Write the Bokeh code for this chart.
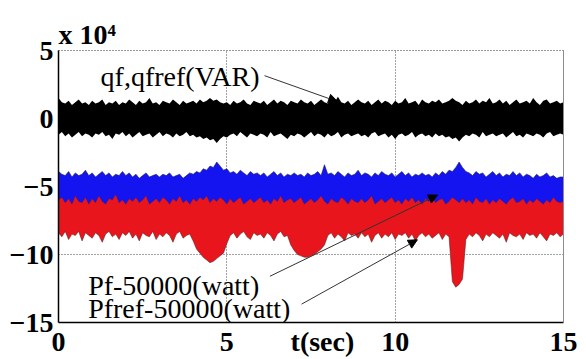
from bokeh.plotting import figure
from bokeh.models import (Range1d, LinearAxis, FixedTicker, Label, Arrow,
                          NormalHead, Title)
from bokeh.embed import file_html
from bokeh.resources import INLINE

# time axis, seconds, sampled every 0.1 s
t = [i / 10 for i in range(151)]

# envelopes of the signals, units of 1e4
qf_hi = [1.5, 1.2, 1.1, 1.3, 1.0, 1.2, 1.4, 1.1, 1.2, 1.0,
         1.3, 1.1, 1.2, 1.4, 1.0, 1.2, 1.1, 1.3, 1.0, 1.2,
         1.1, 1.4, 1.2, 1.0, 1.3, 1.1, 1.2, 1.5, 1.1, 1.2,
         1.0, 1.3, 1.2, 1.1, 1.4, 1.2, 1.0, 1.3, 1.1, 1.2,
         1.3, 1.1, 1.4, 1.2, 1.3, 1.5, 1.3, 1.4, 1.2, 1.1,
         1.2, 1.0, 1.3, 1.1, 1.2, 1.4, 1.1, 1.0, 1.3, 1.2,
         1.1, 1.3, 1.0, 1.2, 1.4, 1.1, 1.3, 1.2, 1.0, 1.3,
         1.2, 1.1, 1.4, 1.2, 1.1, 1.3, 1.0, 1.2, 1.4, 1.2,
         1.1, 1.3, 1.2, 1.6, 1.2, 1.1, 1.3, 1.0, 1.2, 1.4,
         1.2, 1.1, 1.3, 1.0, 1.2, 1.4, 1.1, 1.3, 1.2, 1.0,
         1.3, 1.1, 1.2, 1.5, 1.1, 1.2, 1.3, 1.0, 1.4, 1.2,
         1.1, 1.3, 1.2, 1.4, 1.1, 1.2, 1.3, 1.5, 1.3, 1.2,
         1.0, 1.3, 1.1, 1.2, 1.4, 1.1, 1.3, 1.2, 1.5, 1.1,
         1.2, 1.4, 1.1, 1.3, 1.0, 1.2, 1.4, 1.1, 1.2, 1.3,
         1.1, 1.5, 1.2, 1.0, 1.3, 1.4, 1.1, 1.2, 1.3, 1.1,
         1.2]
qf_lo = [-1.2, -1.0, -1.3, -1.1, -1.4, -1.2, -1.0, -1.3, -1.1, -1.2,
         -1.4, -1.1, -1.2, -1.0, -1.3, -1.2, -1.5, -1.1, -1.2, -1.0,
         -1.3, -1.1, -1.4, -1.2, -1.0, -1.3, -1.2, -1.1, -1.4, -1.2,
         -1.0, -1.3, -1.1, -1.2, -1.4, -1.1, -1.3, -1.2, -1.0, -1.3,
         -1.2, -1.4, -1.3, -1.5, -1.4, -1.6, -1.5, -1.8, -1.5, -1.3,
         -1.4, -1.2, -1.1, -1.3, -1.0, -1.2, -1.4, -1.1, -1.2, -1.3,
         -1.1, -1.2, -1.4, -1.0, -1.3, -1.2, -1.1, -1.3, -1.5, -1.2,
         -1.3, -1.1, -1.2, -1.4, -1.2, -1.0, -1.3, -1.1, -1.2, -1.4,
         -1.1, -1.3, -1.2, -1.0, -1.4, -1.2, -1.1, -1.3, -1.2, -1.1,
         -1.3, -1.2, -1.4, -1.1, -1.0, -1.3, -1.2, -1.1, -1.4, -1.2,
         -1.5, -1.2, -1.1, -1.3, -1.2, -1.0, -1.4, -1.2, -1.1, -1.3,
         -1.2, -1.4, -1.1, -1.3, -1.2, -1.4, -1.3, -1.5, -1.4, -1.7,
         -1.4, -1.2, -1.3, -1.1, -1.2, -1.4, -1.0, -1.3, -1.2, -1.1,
         -1.3, -1.2, -1.1, -1.4, -1.2, -1.0, -1.3, -1.2, -1.4, -1.1,
         -1.2, -1.3, -1.1, -1.2, -1.4, -1.1, -1.0, -1.3, -1.2, -1.1,
         -1.2]
pf_hi = [-3.9, -4.1, -4.2, -3.9, -4.3, -4.0, -4.2, -4.1, -3.8, -4.2,
         -4.0, -4.3, -4.1, -3.9, -4.2, -4.0, -4.3, -4.1, -4.2, -3.9,
         -4.2, -4.0, -4.3, -4.1, -4.4, -4.2, -4.0, -4.3, -4.2, -4.1,
         -4.3, -4.1, -4.2, -4.0, -4.3, -4.2, -4.1, -4.4, -4.2, -4.0,
         -4.1, -3.9, -4.0, -3.7, -3.8, -3.5, -3.6, -3.2, -3.5, -3.8,
         -3.7, -4.0, -3.9, -4.1, -3.8, -4.0, -4.2, -3.9, -4.1, -4.0,
         -4.2, -4.0, -4.3, -4.1, -3.9, -4.2, -4.0, -4.3, -4.1, -4.2,
         -4.0, -4.2, -4.1, -4.3, -4.0, -4.2, -4.1, -3.9, -4.2, -3.4,
         -4.1, -4.0, -4.2, -3.9, -4.1, -4.3, -4.0, -4.2, -4.1, -3.8,
         -4.2, -4.0, -4.1, -4.3, -4.0, -4.2, -3.9, -4.1, -4.2, -4.0,
         -4.3, -4.1, -3.9, -4.2, -4.0, -4.3, -4.1, -4.2, -4.0, -4.2,
         -4.1, -4.3, -4.0, -4.2, -3.9, -4.1, -3.8, -3.9, -3.6, -3.2,
         -3.6, -3.9, -4.0, -4.2, -3.9, -4.1, -4.0, -4.3, -4.1, -3.9,
         -4.2, -4.0, -4.3, -4.1, -4.2, -3.9, -4.2, -4.0, -4.3, -4.1,
         -4.2, -4.4, -4.1, -4.3, -4.2, -4.0, -4.3, -4.2, -4.4, -4.3,
         -4.3]
pf_lo = [-6.6, -6.7, -6.5, -6.6, -6.8, -6.5, -6.7, -6.6, -6.5, -6.7,
         -6.6, -6.5, -6.7, -6.6, -6.8, -6.6, -6.5, -6.7, -6.6, -6.5,
         -6.7, -6.6, -6.5, -6.8, -6.6, -6.7, -6.5, -6.6, -6.7, -6.6,
         -6.5, -6.7, -6.6, -6.8, -6.5, -6.6, -6.7, -6.5, -6.6, -6.7,
         -6.6, -6.5, -6.7, -6.6, -6.5, -6.7, -6.6, -6.8, -6.6, -6.5,
         -6.7, -6.6, -6.5, -6.7, -6.6, -6.8, -6.5, -6.6, -6.7, -6.6,
         -6.5, -6.7, -6.6, -6.5, -6.8, -6.6, -6.7, -6.5, -6.6, -6.7,
         -6.6, -6.5, -6.7, -6.6, -6.8, -6.5, -6.6, -6.7, -6.5, -6.6,
         -6.7, -6.6, -6.5, -6.7, -6.6, -6.8, -6.6, -6.5, -6.7, -6.6,
         -6.5, -6.7, -6.6, -6.8, -6.5, -6.6, -6.7, -6.6, -6.5, -6.7,
         -6.6, -6.5, -6.7, -6.6, -6.8, -6.6, -6.5, -6.7, -6.6, -6.5,
         -6.7, -6.6, -6.5, -6.8, -6.6, -6.7, -6.5, -6.6, -6.7, -6.6,
         -6.5, -6.7, -6.6, -6.8, -6.5, -6.6, -6.7, -6.5, -6.6, -6.7,
         -6.6, -6.5, -6.7, -6.6, -6.5, -6.7, -6.6, -6.8, -6.6, -6.5,
         -6.7, -6.6, -6.5, -6.7, -6.6, -6.8, -6.5, -6.6, -6.7, -6.6,
         -6.6]
pfref_hi = [-6.0, -5.8, -6.2, -5.9, -6.3, -5.7, -6.1, -6.2, -5.8, -6.3,
            -5.9, -6.2, -5.7, -6.1, -6.3, -5.9, -6.0, -5.6, -6.2, -6.0,
            -6.3, -5.9, -6.1, -5.8, -6.2, -6.0, -5.7, -6.3, -6.1, -5.9,
            -6.2, -5.8, -6.0, -6.3, -5.9, -6.1, -5.7, -6.2, -6.0, -6.3,
            -5.9, -6.1, -5.8, -6.0, -5.7, -6.2, -5.9, -6.1, -5.8, -6.0,
            -6.3, -5.9, -6.2, -6.0, -5.8, -6.3, -6.1, -5.9, -6.2, -6.0,
            -5.8, -6.2, -6.0, -6.3, -5.9, -6.1, -5.7, -6.2, -6.0, -5.9,
            -6.2, -6.0, -5.8, -6.3, -6.1, -5.9, -6.2, -6.0, -5.7, -6.1,
            -6.3, -5.9, -6.1, -6.2, -5.8, -6.0, -6.3, -5.9, -6.1, -6.2,
            -5.9, -6.2, -6.0, -5.7, -6.3, -6.1, -5.9, -6.2, -6.0, -5.8,
            -6.2, -6.0, -6.3, -5.9, -6.1, -5.8, -6.2, -6.0, -6.3, -5.9,
            -6.1, -5.8, -6.2, -6.0, -5.9, -6.3, -6.1, -5.8, -6.0, -6.2,
            -5.9, -6.2, -6.0, -6.3, -5.8, -6.1, -6.2, -5.9, -6.3, -6.0,
            -6.2, -5.9, -6.1, -6.3, -6.0, -5.8, -6.2, -6.1, -5.9, -6.3,
            -6.0, -6.2, -5.9, -6.1, -6.3, -6.0, -6.2, -5.8, -6.1, -6.2,
            -6.1]
pfref_lo = [-8.4, -8.7, -8.3, -8.9, -8.5, -8.6, -8.3, -9.0, -8.4, -8.6,
            -8.8, -8.4, -8.6, -9.1, -8.5, -8.3, -8.7, -8.5, -8.9, -8.4,
            -8.6, -8.3, -8.8, -8.5, -9.0, -8.4, -8.6, -8.7, -8.3, -8.9,
            -8.5, -8.7, -8.4, -8.6, -9.1, -8.5, -8.3, -8.8, -8.6, -8.5,
            -9.0, -9.6, -9.9, -10.2, -10.4, -10.6, -10.5, -10.3, -10.1, -9.9,
            -9.2, -8.6, -8.4, -8.8, -8.5, -8.3, -8.7, -8.9, -8.4, -8.6,
            -8.5, -8.8, -8.4, -8.6, -9.0, -8.5, -8.3, -8.7, -8.6, -9.3,
            -9.7, -10.0, -10.1, -10.2, -10.2, -10.1, -10.0, -9.8, -9.6, -9.3,
            -8.6, -8.4, -8.8, -8.5, -8.7, -9.0, -8.4, -8.6, -8.5, -8.8,
            -8.4, -8.7, -8.5, -9.1, -8.6, -8.4, -8.8, -8.5, -8.7, -8.4,
            -8.9, -8.5, -8.6, -8.4, -8.8, -8.5, -9.0, -8.6, -8.4, -8.7,
            -8.5, -8.8, -8.6, -8.4, -8.9, -8.5, -8.7, -12.0, -12.4, -12.2,
            -11.8, -8.9, -8.5, -8.7, -8.4, -8.6, -9.0, -8.5, -8.7, -8.4,
            -8.6, -8.8, -8.5, -9.1, -8.4, -8.6, -8.7, -8.5, -8.9, -8.4,
            -8.6, -8.5, -8.8, -8.4, -8.7, -9.0, -8.5, -8.6, -8.4, -8.7,
            -8.5]

x_ticks = [0, 5, 10, 15]
y_ticks = [-15, -10, -5, 0, 5]
x_name = "t(sec)"
x_name_at = 7.84          # the axis name sits in the tick-label row

SERIF = "serif"

p = figure(width=586, height=359, output_backend="svg", toolbar_location=None,
           x_range=Range1d(0, 15), y_range=Range1d(-15, 5),
           min_border_left=58, min_border_right=23, min_border_top=50,
           min_border_bottom=36, background_fill_color="white",
           border_fill_color="white", outline_line_color=None)

# signal bands
p.varea(x=t, y1=qf_lo, y2=qf_hi, fill_color="#000000")
p.varea(x=t, y1=pf_lo, y2=pf_hi, fill_color="#1414f0")
p.line(x=t, y=pf_hi, line_color="#20205a", line_width=1, line_alpha=0.6)
p.varea(x=t, y1=pfref_lo, y2=pfref_hi, fill_color="#e8161c")
p.line(x=t, y=pfref_lo, line_color="#5a2020", line_width=1, line_alpha=0.55)
p.line(x=t, y=pfref_hi, line_color="#6a1c30", line_width=1, line_alpha=0.35)

# axes
xa, ya = p.xaxis[0], p.yaxis[0]
xa.ticker = FixedTicker(ticks=x_ticks + [x_name_at])
xa.major_label_overrides = {x_name_at: x_name}
ya.ticker = FixedTicker(ticks=y_ticks)
for ax in (xa, ya):
    ax.minor_tick_line_color = None
    ax.major_tick_in = 0
    ax.major_tick_out = 0
    ax.axis_line_color = "black"
    ax.axis_line_width = 1.5
    ax.major_label_text_font = SERIF
    ax.major_label_text_font_style = "bold"
    ax.major_label_text_font_size = "28px"
    ax.major_label_text_color = "black"
xa.major_label_standoff = 3
ya.major_label_standoff = 5

right = LinearAxis(ticker=FixedTicker(ticks=[]), axis_line_color="#8c8c8c",
                   major_label_text_font_size="0px", minor_tick_line_color=None,
                   major_tick_line_color=None)
p.add_layout(right, "right")
top = LinearAxis(ticker=FixedTicker(ticks=[]), axis_line_color="#333333",
                 axis_line_dash="1 2", major_label_text_font_size="0px",
                 minor_tick_line_color=None, major_tick_line_color=None)
p.add_layout(top, "above")

for g, ticks in ((p.xgrid[0], x_ticks), (p.ygrid[0], y_ticks)):
    g.ticker = FixedTicker(ticks=ticks)
    g.grid_line_color = "#333333"
    g.grid_line_dash = "1 2"
    g.grid_line_width = 1
    g.grid_line_alpha = 0.9

# exponent note above the y axis
p.add_layout(Title(text="x 10\u2074", align="left", text_font=SERIF,
                   text_font_style="bold", text_font_size="28px",
                   text_color="black", standoff=2, offset=0), "above")

# signal annotations
notes = [("qf,qfref(VAR)", 1.25, 3.1, (6.12, 3.15, 8.29, 1.24)),
         ("Pf-50000(watt)", 0.88, -12.26, (6.28, -11.6, 11.26, -5.63)),
         ("Pfref-50000(watt)", 0.88, -13.94, (7.22, -13.65, 10.66, -8.92))]
for txt, lx, ly, (x0, y0, x1, y1) in notes:
    p.add_layout(Label(x=lx, y=ly, text=txt, text_font=SERIF,
                       text_font_size="28px", text_color="black",
                       text_baseline="middle"))
    p.add_layout(Arrow(x_start=x0, y_start=y0, x_end=x1, y_end=y1,
                       line_color="#333333", line_width=1,
                       end=NormalHead(size=9, fill_color="black",
                                      line_color="black")))

open("out.html", "w").write(file_html(p, INLINE))
